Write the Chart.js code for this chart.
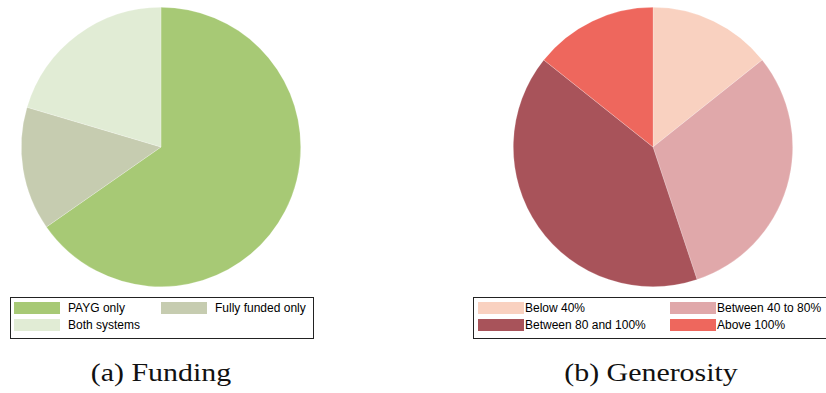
<!DOCTYPE html>
<html>
<head>
<meta charset="utf-8">
<script src="https://cdn.jsdelivr.net/npm/chart.js@4.4.0/dist/chart.umd.min.js"></script>
<style>
  html, body { margin: 0; padding: 0; background: #fff; }
  #wrap { position: relative; width: 826px; height: 393px; overflow: hidden; }
  canvas { position: absolute; }
  .legend { position: absolute; border: 1px solid #222; box-sizing: border-box;
            font-family: "Liberation Sans", Arial, sans-serif; font-size: 12px; color: #000; }
  .item { position: absolute; height: 12px; line-height: 12px; white-space: nowrap; }
  .sw { position: absolute; left: 0; top: 0; width: 46px; height: 12px; }
  .lbl { position: absolute; top: 0; }
  .cap { position: absolute; font-family: "Liberation Serif", "DejaVu Serif", serif;
         font-size: 26px; color: #111; text-align: center; width: 300px;
         transform: scaleX(1.15); transform-origin: 150px 0; }
</style>
</head>
<body>
<div id="wrap">
  <canvas id="pieA" width="300" height="300" style="left:11px;top:-3px"></canvas>
  <canvas id="pieB" width="300" height="300" style="left:503px;top:-3px"></canvas>
  <div id="legA" class="legend" style="left:10px;top:297px;width:304px;height:42px"></div>
  <div id="legB" class="legend" style="left:473px;top:297px;width:360px;height:42px"></div>
  <div class="cap" style="left:11px;top:358px">(a) Funding</div>
  <div class="cap" style="left:501px;top:358px">(b) Generosity</div>
</div>
<script>
// Funding: number of schemes by funding type
const fundingLabels = ['PAYG only', 'Fully funded only', 'Both systems'];
const fundingCounts = [32, 7, 10];
const fundingColors = ['#a7c975', '#c6ccb0', '#e1ecd5'];

// Generosity: number of schemes by generosity band
const generosityLabels = ['Below 40%', 'Between 40 to 80%', 'Between 80 and 100%', 'Above 100%'];
const generosityCounts = [7, 15, 20, 7];
const generosityColors = ['#f9d1c0', '#e0a8aa', '#a8535a', '#ee675d'];

function makePie(id, labels, values, colors, edge) {
  return new Chart(document.getElementById(id), {
    type: 'pie',
    data: {
      labels: labels,
      datasets: [{
        data: values,
        backgroundColor: colors,
        borderColor: edge,
        borderWidth: 0.6
      }]
    },
    options: {
      responsive: false,
      animation: false,
      layout: { padding: 10 },
      plugins: { legend: { display: false }, tooltip: { enabled: false } }
    }
  });
}

makePie('pieA', fundingLabels, fundingCounts, fundingColors, 'rgba(255,255,255,0.35)');
makePie('pieB', generosityLabels, generosityCounts, generosityColors, 'rgba(255,255,255,0.35)');

// Boxed two-column legend
function buildLegend(id, labels, colors, colX, textGap) {
  const box = document.getElementById(id);
  labels.forEach((lab, i) => {
    const col = i % 2, row = Math.floor(i / 2);
    const it = document.createElement('div');
    it.className = 'item';
    it.style.left = colX[col] + 'px';
    it.style.top = (4 + row * 17) + 'px';
    const sw = document.createElement('div');
    sw.className = 'sw';
    sw.style.background = colors[i];
    const tx = document.createElement('div');
    tx.className = 'lbl';
    tx.style.left = textGap + 'px';
    tx.textContent = lab;
    it.appendChild(sw);
    it.appendChild(tx);
    box.appendChild(it);
  });
}
buildLegend('legA', fundingLabels, fundingColors, [3, 150], 54);
buildLegend('legB', generosityLabels, generosityColors, [4, 196], 47);
</script>
</body>
</html>
